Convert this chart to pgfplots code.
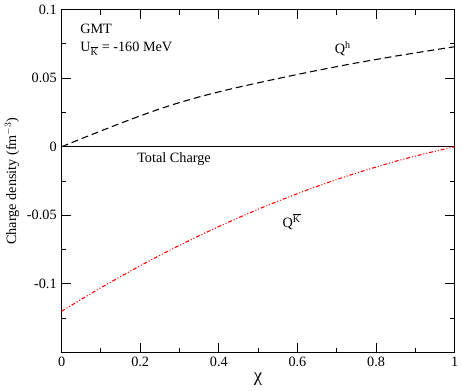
\documentclass[border=0pt]{standalone}
\usepackage{amsmath}
\usepackage{fontspec}
\setmainfont{Liberation Serif}
\usepackage{pgfplots}
\pgfplotsset{compat=1.18}
\begin{document}
\fontsize{14.5}{17}\selectfont
\begin{tikzpicture}
\begin{axis}[
  scale only axis,
  width=399bp, height=348bp,
  xmin=0, xmax=1, ymin=-0.15, ymax=0.1,
  xtick={0,0.2,0.4,0.6,0.8,1},
  xticklabels={0,0.2,0.4,0.6,0.8,1},
  minor xtick={0.1,0.3,0.5,0.7,0.9},
  ytick={-0.1,-0.05,0,0.05,0.1},
  yticklabels={-0.1,-0.05,0,0.05,0.1},
  minor ytick={-0.125,-0.075,-0.025,0.025,0.075},
  tick align=inside,
  major tick length=10bp,
  minor tick length=5bp,
  axis line style={line width=1.2bp},
  every tick/.style={line width=0.9bp, black},
  tick label style={font=\fontsize{14.5}{17}\selectfont},
  xlabel={\fontsize{19}{21}\selectfont χ},
  ylabel={Charge density (fm$^{-3}$)},
  xlabel style={yshift=4bp},
  ylabel style={yshift=-2bp},
  clip=false,
]
\addplot[black, line width=1.1bp, dash pattern=on 7bp off 4bp, smooth] coordinates {
(0,0) (0.05,0.0058) (0.1,0.0115) (0.15,0.0171) (0.2,0.0225) (0.25,0.0276) (0.3,0.0322)
(0.35,0.0363) (0.4,0.0400) (0.45,0.0434) (0.5,0.0466) (0.55,0.0497) (0.6,0.0527)
(0.65,0.0556) (0.7,0.0584) (0.75,0.0611) (0.8,0.0636) (0.85,0.0661) (0.9,0.0684)
(0.95,0.0707) (1.0,0.0729)};
\addplot[black, line width=1bp] coordinates {(0,0) (1,0)};
\addplot[red, line width=1.1bp, dash pattern=on 4bp off 2bp on 1bp off 2bp on 1bp off 2bp, smooth] coordinates {
(0,-0.120) (0.05,-0.1113) (0.1,-0.1028) (0.15,-0.0947) (0.2,-0.0868) (0.25,-0.0792)
(0.3,-0.0719) (0.35,-0.0649) (0.4,-0.0582) (0.45,-0.0518) (0.5,-0.0456) (0.55,-0.0398)
(0.6,-0.0342) (0.65,-0.0289) (0.7,-0.0239) (0.75,-0.0192) (0.8,-0.0148) (0.85,-0.0106)
(0.9,-0.0068) (0.95,-0.0033) (1.0,0.0)};
\node[anchor=west] at (axis cs:0.035,0.086) {GMT};
\node[anchor=west] at (axis cs:0.035,0.0715) {U$_{\overline{\text{K}}}$ = -160 MeV};
\node at (axis cs:0.715,0.0715) {Q$^{\text{h}}$};
\node at (axis cs:0.286,-0.0092) {Total Charge};
\node at (axis cs:0.585,-0.0545) {Q$^{\overline{\text{K}}}$};
\end{axis}
\end{tikzpicture}
\end{document}
